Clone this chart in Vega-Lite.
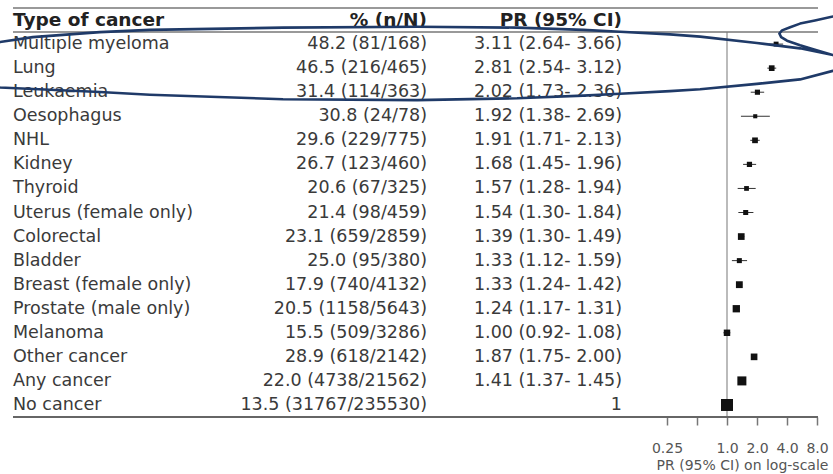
{
  "$schema": "https://vega.github.io/schema/vega-lite/v6.json",
  "width": 833,
  "height": 417,
  "autosize": {"type": "none"},
  "padding": {"left": 0, "top": 0, "right": 0, "bottom": 57},
  "background": "white",
  "config": {
    "view": {"stroke": null},
    "font": "DejaVu Sans",
    "text": {"font": "DejaVu Sans", "fontSize": 17.5, "color": "#3a3a3a", "baseline": "middle"}
  },
  "datasets": {
    "rows": [
      {"kind": "head", "cancer": "Type of cancer", "pct": "% (n/N)", "pr": "PR (95% CI)"},
      {"kind": "body", "cancer": "Multiple myeloma", "pct": "48.2 (81/168)", "pr": "3.11 (2.64- 3.66)", "est": 3.11, "lo": 2.64, "hi": 3.66, "n": 81},
      {"kind": "body", "cancer": "Lung", "pct": "46.5 (216/465)", "pr": "2.81 (2.54- 3.12)", "est": 2.81, "lo": 2.54, "hi": 3.12, "n": 216},
      {"kind": "body", "cancer": "Leukaemia", "pct": "31.4 (114/363)", "pr": "2.02 (1.73- 2.36)", "est": 2.02, "lo": 1.73, "hi": 2.36, "n": 114},
      {"kind": "body", "cancer": "Oesophagus", "pct": "30.8 (24/78)", "pr": "1.92 (1.38- 2.69)", "est": 1.92, "lo": 1.38, "hi": 2.69, "n": 24},
      {"kind": "body", "cancer": "NHL", "pct": "29.6 (229/775)", "pr": "1.91 (1.71- 2.13)", "est": 1.91, "lo": 1.71, "hi": 2.13, "n": 229},
      {"kind": "body", "cancer": "Kidney", "pct": "26.7 (123/460)", "pr": "1.68 (1.45- 1.96)", "est": 1.68, "lo": 1.45, "hi": 1.96, "n": 123},
      {"kind": "body", "cancer": "Thyroid", "pct": "20.6 (67/325)", "pr": "1.57 (1.28- 1.94)", "est": 1.57, "lo": 1.28, "hi": 1.94, "n": 67},
      {"kind": "body", "cancer": "Uterus (female only)", "pct": "21.4 (98/459)", "pr": "1.54 (1.30- 1.84)", "est": 1.54, "lo": 1.30, "hi": 1.84, "n": 98},
      {"kind": "body", "cancer": "Colorectal", "pct": "23.1 (659/2859)", "pr": "1.39 (1.30- 1.49)", "est": 1.39, "lo": 1.30, "hi": 1.49, "n": 659},
      {"kind": "body", "cancer": "Bladder", "pct": "25.0 (95/380)", "pr": "1.33 (1.12- 1.59)", "est": 1.33, "lo": 1.12, "hi": 1.59, "n": 95},
      {"kind": "body", "cancer": "Breast (female only)", "pct": "17.9 (740/4132)", "pr": "1.33 (1.24- 1.42)", "est": 1.33, "lo": 1.24, "hi": 1.42, "n": 740},
      {"kind": "body", "cancer": "Prostate (male only)", "pct": "20.5 (1158/5643)", "pr": "1.24 (1.17- 1.31)", "est": 1.24, "lo": 1.17, "hi": 1.31, "n": 1158},
      {"kind": "body", "cancer": "Melanoma", "pct": "15.5 (509/3286)", "pr": "1.00 (0.92- 1.08)", "est": 1.00, "lo": 0.92, "hi": 1.08, "n": 509},
      {"kind": "body", "cancer": "Other cancer", "pct": "28.9 (618/2142)", "pr": "1.87 (1.75- 2.00)", "est": 1.87, "lo": 1.75, "hi": 2.00, "n": 618},
      {"kind": "body", "cancer": "Any cancer", "pct": "22.0 (4738/21562)", "pr": "1.41 (1.37- 1.45)", "est": 1.41, "lo": 1.37, "hi": 1.45, "n": 4738},
      {"kind": "body", "cancer": "No cancer", "pct": "13.5 (31767/235530)", "pr": "1", "est": 1, "n": 31767}
    ]
  },
  "data": {"name": "rows"},
  "layer": [
    {
      "layer": [
        {
          "transform": [{"filter": "datum.kind == 'head'"}],
          "mark": {"type": "rule", "color": "#bbb", "strokeWidth": 2},
          "encoding": {
            "x": {
              "datum": 1,
              "type": "quantitative",
              "scale": {"type": "log", "domain": [0.25, 8], "range": [667, 817], "nice": false},
              "title": "PR (95% CI) on log-scale",
              "axis": {
                "values": [0.25, 0.5, 1, 2, 4, 8],
                "labelExpr": "datum.value == 0.5 ? '' : datum.value == 0.25 ? '0.25' : format(datum.value, '.1f')",
                "domain": false,
                "grid": false,
                "tickSize": 8,
                "tickColor": "#777",
                "tickWidth": 1.5,
                "labelFont": "DejaVu Sans",
                "labelFontSize": 14,
                "labelColor": "#555",
                "labelPadding": 16,
                "labelFlush": false,
                "labelOverlap": false,
                "titleFont": "DejaVu Sans",
                "titleFontSize": 14,
                "titleFontWeight": "normal",
                "titleColor": "#555",
                "titlePadding": 3
              }
            },
            "y": {
              "datum": "Multiple myeloma",
              "type": "nominal",
              "bandPosition": 0,
              "scale": {
                "type": "band",
                "domain": ["Type of cancer", "Multiple myeloma", "Lung", "Leukaemia", "Oesophagus", "NHL", "Kidney", "Thyroid", "Uterus (female only)", "Colorectal", "Bladder", "Breast (female only)", "Prostate (male only)", "Melanoma", "Other cancer", "Any cancer", "No cancer"],
                "range": [8, 417],
                "paddingInner": 0,
                "paddingOuter": 0
              },
              "axis": null
            },
            "y2": {"datum": "No cancer", "bandPosition": 1}
          }
        },
        {
          "transform": [{"filter": "isValid(datum.lo)"}],
          "mark": {"type": "rule", "color": "#333", "strokeWidth": 1},
          "encoding": {
            "x": {"field": "lo", "type": "quantitative", "title": "PR (95% CI) on log-scale"},
            "x2": {"field": "hi"},
            "y": {"field": "cancer", "type": "nominal", "axis": null}
          }
        },
        {
          "transform": [{"filter": "isValid(datum.est)"}],
          "mark": {"type": "point", "shape": "square", "filled": true, "color": "#111", "opacity": 1},
          "encoding": {
            "x": {"field": "est", "type": "quantitative", "title": "PR (95% CI) on log-scale"},
            "y": {"field": "cancer", "type": "nominal", "axis": null},
            "size": {
              "field": "n",
              "type": "quantitative",
              "scale": {"type": "pow", "exponent": 0.3, "zero": true, "range": [0, 144]},
              "legend": null
            }
          }
        }
      ]
    },
    {
      "layer": [
        {
          "transform": [{"filter": "datum.kind == 'head'"}],
          "mark": {"type": "rule", "color": "#999", "strokeWidth": 2},
          "encoding": {
            "x": {"datum": 0, "type": "quantitative", "scale": {"domain": [0, 100], "range": [13, 818], "nice": false}, "axis": null},
            "x2": {"datum": 100},
            "y": {"field": "cancer", "type": "nominal", "bandPosition": 0, "axis": null}
          }
        },
        {
          "transform": [{"filter": "datum.kind == 'head'"}],
          "mark": {"type": "rule", "color": "#777", "strokeWidth": 1.6},
          "encoding": {
            "x": {"datum": 0, "type": "quantitative", "axis": null},
            "x2": {"datum": 100},
            "y": {"field": "cancer", "type": "nominal", "bandPosition": 1, "axis": null}
          }
        },
        {
          "transform": [{"filter": "datum.cancer == 'No cancer'"}],
          "mark": {"type": "rule", "color": "#666", "strokeWidth": 2},
          "encoding": {
            "x": {"datum": 0, "type": "quantitative", "axis": null},
            "x2": {"datum": 100},
            "y": {"field": "cancer", "type": "nominal", "bandPosition": 1, "axis": null}
          }
        },
        {
          "transform": [{"filter": "datum.kind == 'body'"}],
          "mark": {"type": "text", "align": "left"},
          "encoding": {
            "x": {"datum": 0, "type": "quantitative", "axis": null},
            "y": {"field": "cancer", "type": "nominal", "axis": null},
            "text": {"field": "cancer"}
          }
        },
        {
          "transform": [{"filter": "datum.kind == 'body'"}],
          "mark": {"type": "text", "align": "right"},
          "encoding": {
            "x": {"datum": 51.43, "type": "quantitative", "axis": null},
            "y": {"field": "cancer", "type": "nominal", "axis": null},
            "text": {"field": "pct"}
          }
        },
        {
          "transform": [{"filter": "datum.kind == 'body'"}],
          "mark": {"type": "text", "align": "right"},
          "encoding": {
            "x": {"datum": 75.65, "type": "quantitative", "axis": null},
            "y": {"field": "cancer", "type": "nominal", "axis": null},
            "text": {"field": "pr"}
          }
        },
        {
          "transform": [{"filter": "datum.kind == 'head'"}],
          "mark": {"type": "text", "align": "left", "fontWeight": "bold", "fontSize": 18.5, "color": "#222"},
          "encoding": {
            "x": {"datum": 0, "type": "quantitative", "axis": null},
            "y": {"field": "cancer", "type": "nominal", "axis": null},
            "text": {"field": "cancer"}
          }
        },
        {
          "transform": [{"filter": "datum.kind == 'head'"}],
          "mark": {"type": "text", "align": "right", "fontWeight": "bold", "fontSize": 18.5, "color": "#222"},
          "encoding": {
            "x": {"datum": 51.43, "type": "quantitative", "axis": null},
            "y": {"field": "cancer", "type": "nominal", "axis": null},
            "text": {"field": "pct"}
          }
        },
        {
          "transform": [{"filter": "datum.kind == 'head'"}],
          "mark": {"type": "text", "align": "right", "fontWeight": "bold", "fontSize": 18.5, "color": "#222"},
          "encoding": {
            "x": {"datum": 75.65, "type": "quantitative", "axis": null},
            "y": {"field": "cancer", "type": "nominal", "axis": null},
            "text": {"field": "pr"}
          }
        },
        {
          "transform": [{"filter": "datum.cancer == 'Lung'"}],
          "mark": {
            "type": "point",
            "shape": "M0.94,-0.129L0.902,-0.115L0.862,-0.106L0.829,-0.099L0.807,-0.091L0.789,-0.084L0.783,-0.077L0.787,-0.069L0.8,-0.061L0.829,-0.051L0.862,-0.041L0.902,-0.029L0.951,-0.018M0.951,-0.023L0.902,-0.029L0.829,-0.044L0.733,-0.056L0.607,-0.07L0.54,-0.075L0.429,-0.081L0.347,-0.085L0.2,-0.09L-0.022,-0.092L-0.32,-0.09L-0.616,-0.085L-0.727,-0.08L-0.876,-0.069L-0.949,-0.058L-1.004,-0.036L-1.027,-0.005L-1.004,0.026L-0.949,0.043L-0.727,0.053L-0.616,0.059L-0.32,0.069L-0.022,0.071L0.2,0.067L0.347,0.061L0.429,0.057L0.54,0.051L0.607,0.047L0.733,0.035L0.829,0.025L0.902,0.006L0.94,-0.009",
            "size": 810000,
            "filled": false,
            "stroke": "#1f3a68",
            "strokeWidth": 2.6,
            "strokeJoin": "round",
            "opacity": 1
          },
          "encoding": {
            "x": {"datum": 51.43, "type": "quantitative", "axis": null},
            "y": {"field": "cancer", "type": "nominal", "axis": null}
          }
        }
      ]
    }
  ],
  "resolve": {"scale": {"x": "independent"}}
}
